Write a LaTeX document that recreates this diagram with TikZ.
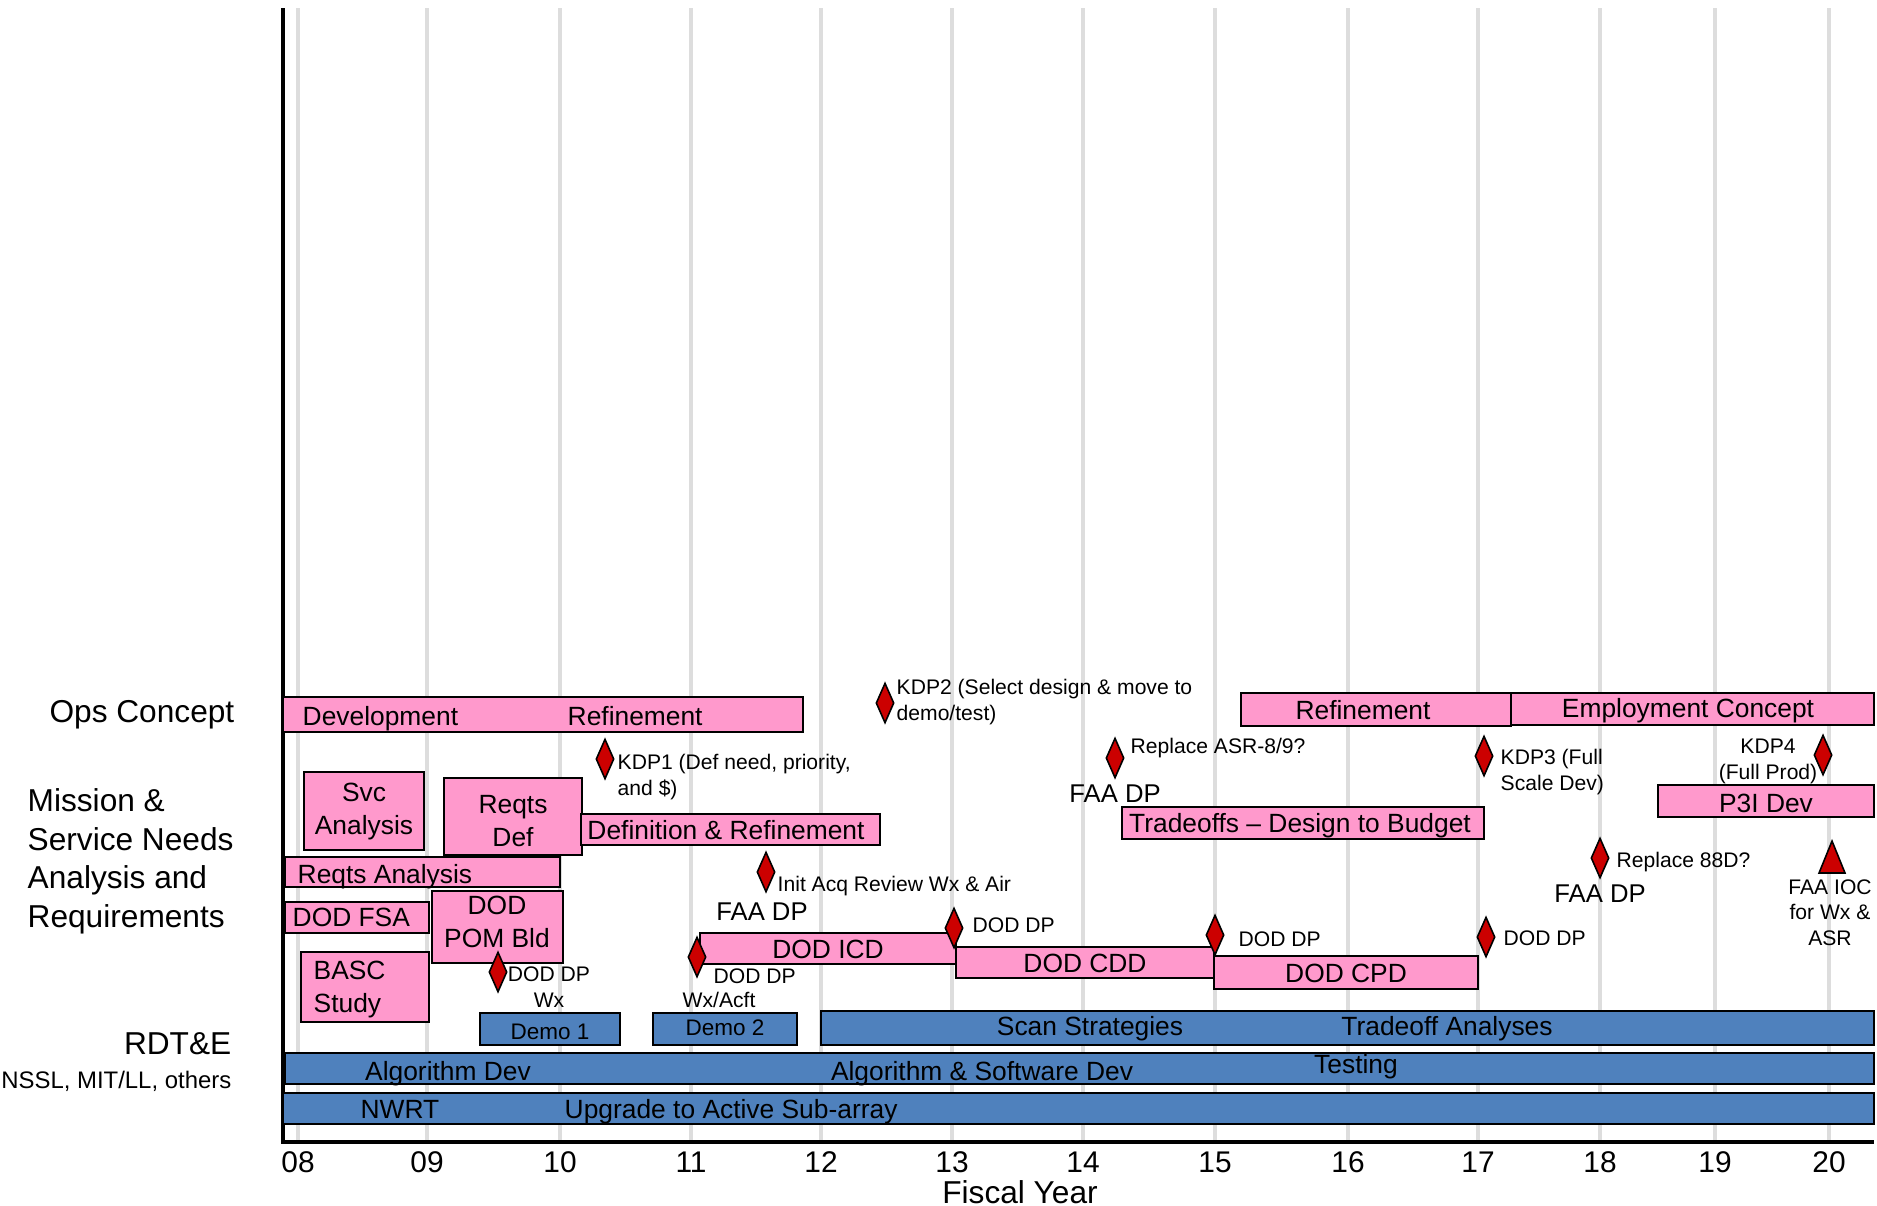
\documentclass[tikz,border=0pt]{standalone}
\usepackage{fontspec}
\setmainfont{Liberation Sans}
\usetikzlibrary{shapes.geometric}

\definecolor{barpink}{RGB}{255,153,204}
\definecolor{barblue}{RGB}{79,129,189}
\definecolor{kdpred}{RGB}{204,0,0}
\definecolor{gridgray}{RGB}{221,221,221}

\tikzset{
    rowlabel/.style={font=\fontsize{9}{10.95}\selectfont, inner sep=0pt},
    bartext/.style={font=\fontsize{7.5}{9.2}\selectfont, inner sep=0pt},
    demotext/.style={font=\fontsize{6.4}{7.6}\selectfont, inner sep=0pt},
    notetext/.style={font=\fontsize{6}{7.2}\selectfont, inner sep=0pt},
    faa/.style={font=\fontsize{7.3}{8.8}\selectfont, inner sep=0pt, anchor=base},
    pinkbar/.style={draw=black, fill=barpink, line width=0.6pt},
    bluebar/.style={draw=black, fill=barblue, line width=0.6pt},
    heavy/.style={line width=0.8pt},
    kdp/.style={diamond, draw=black, fill=kdpred, line width=0.45pt,
        minimum width=0.18cm, minimum height=0.40cm, inner sep=0pt},
}

\begin{document}
\begin{tikzpicture}[x=0.01cm, y=-0.01cm]
    \useasboundingbox (0,0) rectangle (1877,1205);

    % year grid, ticks and axes
    \foreach \x/\yr in {298/08,427/09,560/10,691/11,821/12,952/13,1083/14,1215/15,1348/16,1478/17,1600/18,1715/19,1829/20} {
        \draw[gridgray, line width=1.1pt] (\x,8) -- (\x,1142);
        \node[font=\fontsize{8.5}{10}\selectfont, anchor=base, inner sep=0pt] (yr\yr) at (\x,1172) {\yr};
    }
    \draw[line width=1.1pt] (283,8) -- (283,1142) -- (1874,1142);
    \node[rowlabel, anchor=base] (fy) at (1020,1203) {Fiscal Year};

    % row labels (multi-line nodes sit on their last baseline)
    \node[rowlabel, anchor=base east] (ops) at (235,722) {Ops Concept};
    \node[rowlabel, anchor=base west, align=left] (mission) at (27,927) {Mission \&\\Service Needs\\Analysis and\\Requirements};
    \node[rowlabel, anchor=base east] (rdte) at (232,1054) {RDT\&E};
    \node[font=\fontsize{6.8}{8}\selectfont, inner sep=0pt, anchor=base east] (labs) at (232,1088) {NSSL, MIT/LL, others};

    % Ops Concept
    \draw[pinkbar] (283,697) rectangle (803,732);
    \node[bartext, anchor=base west] (dev) at (302,725) {Development};
    \node[bartext, anchor=base west] (refine) at (567,725) {Refinement};
    \draw[pinkbar, heavy] (1241,693) rectangle (1511,726);
    \node[bartext, anchor=base] (refine2) at (1363,719) {Refinement};
    \draw[pinkbar, heavy] (1511,693) rectangle (1874,725);
    \node[bartext, anchor=base] (employ) at (1688,717) {Employment Concept};

    % Mission & Service Needs
    \draw[pinkbar] (304,772) rectangle (424,850);
    \node[bartext, anchor=base, align=center] (svc) at (364,834) {Svc\\Analysis};
    \draw[pinkbar] (444,778) rectangle (582,855);
    \node[bartext, anchor=base, align=center] (reqdef) at (513,846) {Reqts\\Def};
    \draw[pinkbar] (581,814) rectangle (880,845);
    \node[bartext, anchor=base] (defref) at (726,839) {Definition \& Refinement};
    \draw[pinkbar] (285,857) rectangle (560,887);
    \node[bartext, anchor=base west] (reqan) at (297,883) {Reqts Analysis};
    \draw[pinkbar] (285,902) rectangle (429,933);
    \node[bartext, anchor=base west] (fsa) at (292,926) {DOD FSA};
    \draw[pinkbar] (432,891) rectangle (563,963);
    \node[bartext, anchor=base, align=center] (pom) at (497,947) {DOD\\POM Bld};
    \draw[pinkbar] (301,952) rectangle (429,1022);
    \node[bartext, anchor=base west, align=left] (basc) at (313,1012) {BASC\\Study};
    \draw[pinkbar, heavy] (1122,807) rectangle (1484,839);
    \node[bartext, anchor=base] (budget) at (1300,832) {Tradeoffs – Design to Budget};
    \draw[pinkbar, heavy] (1658,785) rectangle (1874,817);
    \node[bartext, anchor=base] (p3i) at (1766,812) {P3I Dev};
    \draw[pinkbar] (700,933) rectangle (956,964);
    \node[bartext, anchor=base] (icd) at (828,958) {DOD ICD};
    \draw[pinkbar] (956,947) rectangle (1214,978);
    \node[bartext, anchor=base] (cdd) at (1085,972) {DOD CDD};
    \draw[pinkbar] (1214,956) rectangle (1478,989);
    \node[bartext, anchor=base] (cpd) at (1346,982) {DOD CPD};

    % RDT&E
    \draw[bluebar, heavy] (480,1013) rectangle (620,1045);
    \node[demotext, anchor=base] (demo1) at (550,1039) {Demo 1};
    \draw[bluebar, heavy] (653,1013) rectangle (797,1045);
    \node[demotext, anchor=base] (demo2) at (725,1035) {Demo 2};
    \draw[bluebar, heavy] (821,1011) rectangle (1874,1045);
    \node[bartext, anchor=base] (scan) at (1090,1035) {Scan Strategies};
    \node[bartext, anchor=base] (tradean) at (1447,1035) {Tradeoff Analyses};
    \draw[bluebar] (285,1053) rectangle (1874,1084);
    \node[bartext, anchor=base] (algdev) at (448,1080) {Algorithm Dev};
    \node[bartext, anchor=base] (algsw) at (982,1080) {Algorithm \& Software Dev};
    \node[bartext, anchor=base] (testing) at (1356,1073) {Testing};
    \draw[bluebar, heavy] (283,1093) rectangle (1874,1124);
    \node[bartext, anchor=base] (nwrt) at (400,1118) {NWRT};
    \node[bartext, anchor=base west] (upgrade) at (564,1118) {Upgrade to Active Sub-array};

    % key decision points
    \node[kdp] (kdp1) at (605,759) {};
    \node[notetext, anchor=base west, align=left] (kdp1txt) at (617,795) {KDP1 (Def need, priority,\\and \$)};
    \node[kdp] (kdp2) at (885,703) {};
    \node[notetext, anchor=base west, align=left] (kdp2txt) at (896,720) {KDP2 (Select design \& move to\\demo/test)};
    \node[kdp] (kdp3) at (1484,756) {};
    \node[notetext, anchor=base west, align=left] (kdp3txt) at (1500,790) {KDP3 (Full\\Scale Dev)};
    \node[kdp] (kdp4) at (1823,755) {};
    \node[notetext, anchor=base, align=center] (kdp4txt) at (1768,779) {KDP4\\(Full Prod)};

    % FAA decision points
    \node[kdp] (acq) at (766,872) {};
    \node[notetext, anchor=base west] (acqtxt) at (777,891) {Init Acq Review Wx \& Air};
    \node[faa] (faa1) at (762,920) {FAA DP};
    \node[kdp] (asr) at (1115,758) {};
    \node[notetext, anchor=base west] (asrtxt) at (1130,753) {Replace ASR-8/9?};
    \node[faa] (faa2) at (1115,802) {FAA DP};
    \node[kdp] (wsr) at (1600,858) {};
    \node[notetext, anchor=base west] (wsrtxt) at (1616,867) {Replace 88D?};
    \node[faa] (faa3) at (1600,902) {FAA DP};

    % DOD decision points
    \node[kdp] (dp09) at (498,972) {};
    \node[notetext, anchor=base, align=center] (dp09txt) at (549,1007) {DOD DP\\Wx};
    \node[kdp] (dp11) at (697,957) {};
    \node[notetext, anchor=base west] (dp11txt) at (713,983) {DOD DP};
    \node[notetext, anchor=base] (dp11sub) at (719,1007) {Wx/Acft};
    \node[kdp] (dp13) at (954,928) {};
    \node[notetext, anchor=base west] (dp13txt) at (972,932) {DOD DP};
    \node[kdp] (dp15) at (1215,935) {};
    \node[notetext, anchor=base west] (dp15txt) at (1238,946) {DOD DP};
    \node[kdp] (dp17) at (1486,937) {};
    \node[notetext, anchor=base west] (dp17txt) at (1503,945) {DOD DP};

    % initial operating capability
    \coordinate (ioc) at (1832,873);
    \draw[fill=kdpred, line width=0.45pt] (ioc) ++(-13,0) -- ++(26,0) -- ++(-13,-32) -- cycle;
    \node[notetext, anchor=base, align=center] (ioctxt) at (1830,945) {FAA IOC\\for Wx \&\\ASR};
\end{tikzpicture}
\end{document}
